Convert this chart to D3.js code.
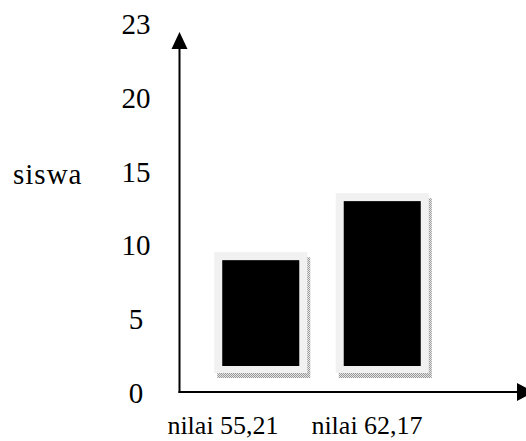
<!DOCTYPE html>
<html>
<head>
<meta charset="utf-8">
<script src="https://cdn.jsdelivr.net/npm/d3@7"></script>
<style>
  body { margin: 0; background: #fff; }
  svg { display: block; }
  text { font-family: "Liberation Serif", "Times New Roman", serif; fill: #000; }
  .ticks text, .ytitle { font-size: 29px; }
  .cats text { font-size: 26px; }
</style>
</head>
<body>
<svg width="526" height="441"></svg>
<script>
document.addEventListener('DOMContentLoaded', ()=> {

    // data
    const categories = ['nilai 55,21', 'nilai 62,17'];
    const siswa = [9, 13];
    const tickLabels = ['0', '5', '10', '15', '20', '23'];
    const tickValues = [0, 5, 10, 15, 20, 25];   // the "23" label sits at the top slot

    const svg = d3.select('svg');

    const axisX = 179.5, axisY = 392;
    const barBase = 366;      // bars stand a bit above the x axis, like in the drawing
    const framePad = 8;

    const y = d3.scaleLinear().domain([0, 25]).range([393, 24]);
    const x = d3.scaleBand()
        .domain(categories)
        .range([200, 443])
        .paddingInner(0.366)
        .paddingOuter(0.183);
    const labelX = d3.scalePoint().domain(categories).range([223, 367]);

    // dithered shadow pattern
    const defs = svg.append('defs');
    const pat = defs.append('pattern')
        .attr('id', 'dither')
        .attr('width', 2).attr('height', 2)
        .attr('patternUnits', 'userSpaceOnUse');
    pat.append('rect').attr('width', 2).attr('height', 2).attr('fill', '#e4e4e4');
    pat.append('rect').attr('width', 1).attr('height', 1).attr('fill', '#9a9a9a');
    pat.append('rect').attr('x', 1).attr('y', 1).attr('width', 1).attr('height', 1).attr('fill', '#9a9a9a');

    // bars
    const bars = svg.append('g').attr('class', 'bars')
        .selectAll('g')
        .data(categories)
        .enter()
        .append('g');

    bars.append('rect')
        .attr('x', d=> x(d) - framePad + 3)
        .attr('y', (d,i)=> y(siswa[i]) - framePad + 5)
        .attr('width', x.bandwidth() + framePad*2)
        .attr('height', (d,i)=> barBase - y(siswa[i]) + framePad*2 - 1)
        .attr('fill', 'url(#dither)');

    bars.append('rect')
        .attr('x', d=> x(d) - framePad)
        .attr('y', (d,i)=> y(siswa[i]) - framePad)
        .attr('width', x.bandwidth() + framePad*2)
        .attr('height', (d,i)=> barBase - y(siswa[i]) + framePad*2 - 1)
        .attr('fill', '#f1f1f1');

    bars.append('rect')
        .attr('x', d=> x(d))
        .attr('y', (d,i)=> y(siswa[i]))
        .attr('width', x.bandwidth())
        .attr('height', (d,i)=> barBase - y(siswa[i]))
        .attr('fill', '#000');

    // axes with arrow heads
    const axes = svg.append('g').attr('class', 'axes');
    axes.append('line')
        .attr('x1', axisX).attr('y1', axisY + 1)
        .attr('x2', axisX).attr('y2', 46)
        .attr('stroke', '#000').attr('stroke-width', 2);
    axes.append('path')
        .attr('d', `M${axisX},32 L${axisX - 8},49 L${axisX + 8},49 Z`)
        .attr('fill', '#000');
    axes.append('line')
        .attr('x1', axisX - 1).attr('y1', axisY)
        .attr('x2', 520).attr('y2', axisY)
        .attr('stroke', '#000').attr('stroke-width', 2);
    axes.append('path')
        .attr('d', `M517,${axisY - 9} L534,${axisY} L517,${axisY + 9} Z`)
        .attr('fill', '#000');

    // y tick labels
    svg.append('g').attr('class', 'ticks')
        .selectAll('text')
        .data(tickLabels)
        .enter()
        .append('text')
        .attr('x', 136)
        .attr('y', (d,i)=> y(tickValues[i]) + 10)
        .attr('text-anchor', 'middle')
        .text(d=> d);

    // category labels
    svg.append('g').attr('class', 'cats')
        .selectAll('text')
        .data(categories)
        .enter()
        .append('text')
        .attr('x', d=> labelX(d))
        .attr('y', 434)
        .attr('text-anchor', 'middle')
        .text(d=> d);

    // y title
    svg.append('text')
        .attr('class', 'ytitle')
        .attr('x', 13)
        .attr('y', 184)
        .attr('letter-spacing', '1px')
        .text('siswa');
});
</script>
</body>
</html>
